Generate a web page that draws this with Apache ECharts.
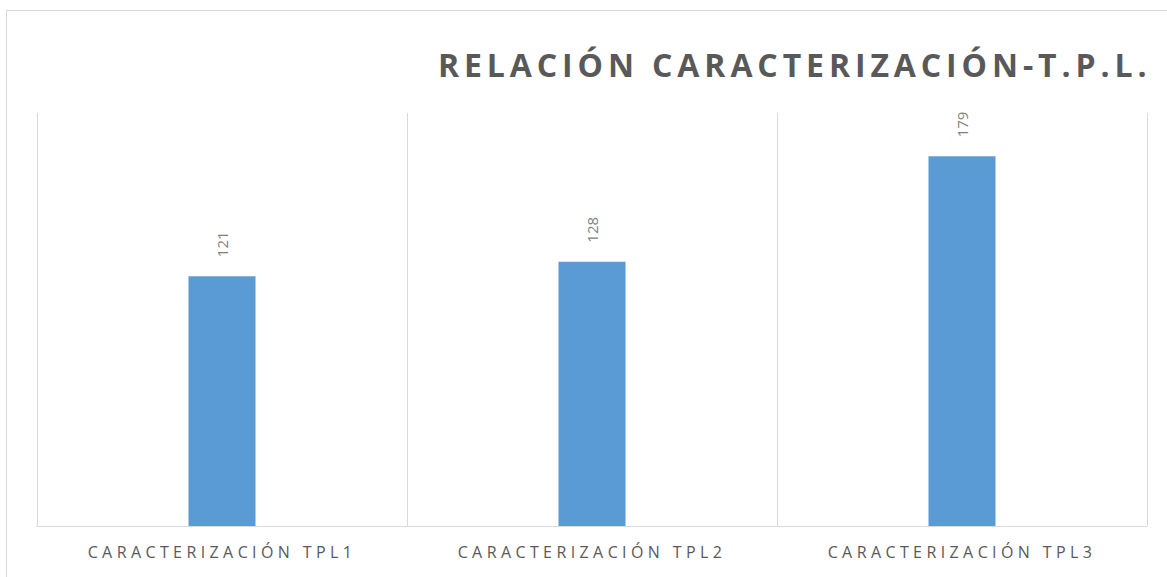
<!DOCTYPE html>
<html><head><meta charset="utf-8">
<script src="https://cdn.jsdelivr.net/npm/echarts@6/dist/echarts.min.js"></script>
<style>
html,body{margin:0;padding:0;background:#fff}
#c{width:1167px;height:577px}
#c text[style*="32px"], #c text[font-size="32"] { letter-spacing: 4.9px; }
#c text[style*="16px"], #c text[font-size="16"] { letter-spacing: 4.4px; }
</style>
</head><body><div id="c"></div>
<script>
const categories = ["CARACTERIZACIÓN TPL1", "CARACTERIZACIÓN TPL2", "CARACTERIZACIÓN TPL3"];
const values = [121, 128, 179];
const titleText = "RELACIÓN CARACTERIZACIÓN-T.P.L.";

const chart = echarts.init(document.getElementById('c'), null, { renderer: 'svg' });
chart.setOption({
  animation: false,
  backgroundColor: '#fff',
  graphic: [{
    type: 'rect', left: 4, top: 8,
    shape: { width: 1200, height: 600 },
    style: { fill: 'none', stroke: '#d9d9d9', lineWidth: 1 }
  }],
  title: {
    text: titleText,
    left: 433, top: 43,
    textStyle: { fontFamily: 'Open Sans', fontWeight: 'bold', fontSize: 32, color: '#595959' }
  },
  grid: { left: 37, right: 20, top: 113, bottom: 51, containLabel: false },
  xAxis: {
    type: 'category', data: categories,
    axisLine: { lineStyle: { color: '#d9d9d9', width: 1 } },
    axisTick: { show: false },
    splitLine: { show: true, lineStyle: { color: '#d9d9d9', width: 1 } },
    axisLabel: { color: '#595959', fontFamily: 'Open Sans', fontSize: 16, margin: 18, interval: 0 }
  },
  yAxis: {
    type: 'value', min: 0, max: 200, interval: 50,
    show: true,
    axisLine: { show: false }, axisTick: { show: false }, axisLabel: { show: false },
    splitLine: { show: false }
  },
  series: [{
    type: 'bar', data: values, barWidth: 67,
    itemStyle: { color: '#5b9bd5' },
    label: {
      show: true, position: 'top', rotate: 90, distance: 19,
      align: 'left', verticalAlign: 'middle',
      color: '#7f7f7f', fontFamily: 'Open Sans', fontSize: 15
    }
  }]
});
</script></body></html>
